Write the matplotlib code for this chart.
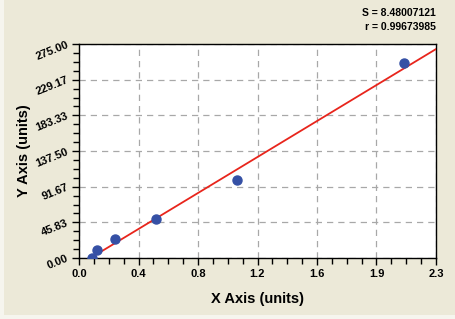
import numpy as np
import matplotlib.pyplot as plt
from matplotlib.patches import Rectangle

plt.rcParams['font.family'] = ['Liberation Sans', 'DejaVu Sans']

# data
x_pts = [0.082, 0.114, 0.232, 0.498, 1.018, 2.096]
y_pts = [0.0, 10.3, 24.8, 49.7, 100.2, 250.2]
fit_x = [0.07, 2.3]
fit_y = [-0.5, 268.5]

x_labels = ['0.0', '0.4', '0.8', '1.2', '1.6', '1.9', '2.3']
y_labels = ['0.00', '45.83', '91.67', '137.50', '183.33', '229.17', '275.00']
stats = ['S = 8.48007121', 'r = 0.99673985']

bg = '#ECE9D8'
fig = plt.figure(figsize=(4.55, 3.19), dpi=100, facecolor='#F6F5EE')
fig.patches.append(Rectangle((4 / 455, 4 / 319), 1, 1, transform=fig.transFigure,
                             facecolor=bg, edgecolor='none', zorder=-10))

ax = fig.add_axes([79 / 455, 1 - 258 / 319, 357 / 455, 214 / 319])
ax.set_facecolor('white')

ax.plot(fit_x, fit_y, color='#E8251C', lw=1.3, zorder=3)
ax.plot(x_pts, y_pts, 'o', color='#3550A5', ms=6.5, zorder=4)

xt = np.linspace(0, 2.3, len(x_labels))
yt = np.linspace(0, 275, len(y_labels))
ax.set_xlim(0, 2.3)
ax.set_ylim(0, 275)
ax.set_xticks(xt)
ax.set_xticklabels(x_labels, fontsize=8, fontweight='bold')
ax.set_yticks(yt)
ax.set_yticklabels(y_labels, fontsize=8, fontweight='bold', rotation=22,
                   ha='right', va='center', rotation_mode='anchor')
ax.set_xticks(np.linspace(0, 2.3, 25), minor=True)
ax.set_yticks(np.linspace(0, 275, 25), minor=True)
ax.tick_params(which='major', length=5, width=1, color='black', pad=3)
ax.tick_params(which='minor', length=4, width=1, color='black')

ax.grid(True, which='major', color='#A8A8A8', linestyle=(0, (5, 4)), lw=0.9)
for s in ax.spines.values():
    s.set_linewidth(1)
    s.set_color('black')

ax.set_xlabel('X Axis (units)', fontsize=10.5, fontweight='bold', labelpad=9)
ax.set_ylabel('Y Axis (units)', fontsize=10.5, fontweight='bold', labelpad=2)

fig.text(436 / 455, 1 - 13 / 319, stats[0], ha='right', va='center',
         fontsize=7.5, fontweight='bold')
fig.text(436 / 455, 1 - 27 / 319, stats[1], ha='right', va='center',
         fontsize=7.5, fontweight='bold')

fig.savefig('out.png', dpi=100, facecolor=fig.get_facecolor())
